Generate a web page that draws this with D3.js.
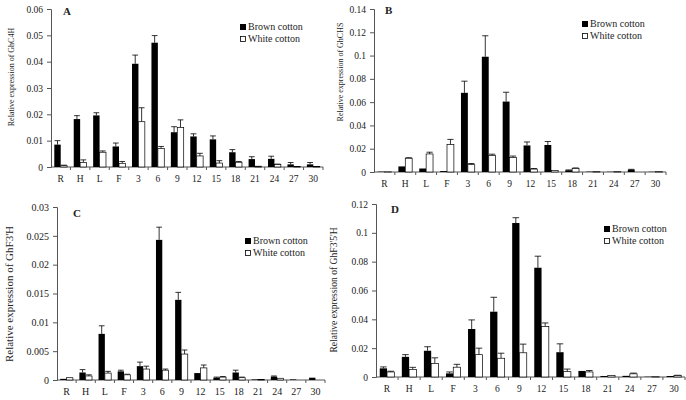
<!DOCTYPE html>
<html>
<head>
<meta charset="utf-8">
<script src="https://cdn.jsdelivr.net/npm/d3@7"></script>
<style>
  body { margin: 0; background: #fff; }
  svg { display: block; }
</style>
</head>
<body>
<script>
//categories shared by all four panels
var stages = ["R", "H", "L", "F", "3", "6", "9", "12", "15", "18", "21", "24", "27", "30"];

//panel A - GhC4H
var c4hBrown    = [0.0085, 0.0182, 0.0196, 0.0078, 0.0392, 0.0472, 0.0132, 0.0116, 0.0105, 0.0056, 0.0030, 0.0031, 0.0010, 0.0010];
var c4hBrownErr = [0.0015, 0.0013, 0.0010, 0.0013, 0.0033, 0.0027, 0.0021, 0.0010, 0.0013, 0.0010, 0.0009, 0.0010, 0.0007, 0.0007];
var c4hWhite    = [0.0005, 0.0017, 0.0056, 0.0014, 0.0172, 0.0070, 0.0150, 0.0042, 0.0015, 0.0018, 0.0003, 0.0009, 0.0002, 0.0002];
var c4hWhiteErr = [0.0002, 0.0010, 0.0005, 0.0007, 0.0053, 0.0008, 0.0029, 0.0010, 0.0009, 0.0003, 0.0000, 0.0002, 0.0000, 0.0000];

//panel B - GhCHS
var chsBrown    = [0.0003, 0.0048, 0.0030, 0.0008, 0.0680, 0.0990, 0.0605, 0.0228, 0.0232, 0.0015, 0.0003, 0.0002, 0.0020, 0.0002];
var chsBrownErr = [0.0000, 0.0000, 0.0000, 0.0000, 0.0100, 0.0180, 0.0080, 0.0030, 0.0030, 0.0003, 0.0000, 0.0000, 0.0003, 0.0000];
var chsWhite    = [0.0001, 0.0118, 0.0155, 0.0235, 0.0063, 0.0143, 0.0125, 0.0025, 0.0012, 0.0030, 0.0003, 0.0003, 0.0000, 0.0003];
var chsWhiteErr = [0.0000, 0.0005, 0.0015, 0.0045, 0.0010, 0.0010, 0.0012, 0.0005, 0.0000, 0.0005, 0.0000, 0.0000, 0.0000, 0.0000];

//panel C - GhF3'H
var f3hBrown    = [0.0002, 0.0013, 0.0080, 0.0015, 0.0024, 0.0243, 0.0139, 0.0012, 0.0004, 0.0013, 0.0001, 0.0006, 0.0001, 0.0004];
var f3hBrownErr = [0.0000, 0.0005, 0.0014, 0.0002, 0.0007, 0.0022, 0.0013, 0.0000, 0.0001, 0.0004, 0.0000, 0.0001, 0.0000, 0.0000];
var f3hWhite    = [0.0004, 0.0007, 0.0012, 0.0009, 0.0019, 0.0017, 0.0045, 0.0021, 0.0005, 0.0004, 0.0001, 0.0003, 0.0000, 0.0000];
var f3hWhiteErr = [0.0000, 0.0002, 0.0003, 0.0001, 0.0005, 0.0002, 0.0007, 0.0005, 0.0001, 0.0001, 0.0000, 0.0000, 0.0000, 0.0000];

//panel D - GhF3'5'H
var f35hBrown    = [0.0060, 0.0140, 0.0182, 0.0025, 0.0333, 0.0453, 0.1068, 0.0758, 0.0172, 0.0042, 0.0007, 0.0008, 0.0002, 0.0007];
var f35hBrownErr = [0.0010, 0.0015, 0.0028, 0.0010, 0.0063, 0.0100, 0.0037, 0.0080, 0.0058, 0.0000, 0.0000, 0.0000, 0.0000, 0.0000];
var f35hWhite    = [0.0035, 0.0052, 0.0093, 0.0068, 0.0155, 0.0130, 0.0168, 0.0350, 0.0037, 0.0035, 0.0010, 0.0022, 0.0002, 0.0010];
var f35hWhiteErr = [0.0005, 0.0015, 0.0040, 0.0020, 0.0045, 0.0035, 0.0060, 0.0025, 0.0018, 0.0010, 0.0000, 0.0005, 0.0000, 0.0002];

//y tick values for each panel
var ticksA = [0, 0.01, 0.02, 0.03, 0.04, 0.05, 0.06];
var ticksB = [0, 0.02, 0.04, 0.06, 0.08, 0.1, 0.12, 0.14];
var ticksC = [0, 0.005, 0.01, 0.015, 0.02, 0.025, 0.03];
var ticksD = [0, 0.02, 0.04, 0.06, 0.08, 0.1, 0.12];

var FONT = "'Liberation Serif', 'Times New Roman', serif";
var INK = "#222";

var svg = d3.select("body").append("svg")
    .attr("width", 686)
    .attr("height", 400);

//panel layouts
var panels = [
    {letter: "A", title: "Relative expression of GhC4H", left: 51, right: 323, top: 9, bottom: 167,
     ticks: ticksA, brown: c4hBrown, brownErr: c4hBrownErr, white: c4hWhite, whiteErr: c4hWhiteErr,
     titleX: 14, titleY: 77, titleSize: 8, tickSize: 9.5,
     letterX: 63, letterY: 15, legX: 240, legY: 24},
    {letter: "B", title: "Relative expression of GhCHS", left: 374, right: 666, top: 9, bottom: 172,
     ticks: ticksB, brown: chsBrown, brownErr: chsBrownErr, white: chsWhite, whiteErr: chsWhiteErr,
     titleX: 343, titleY: 72, titleSize: 8, tickSize: 9.5,
     letterX: 385, letterY: 14, legX: 582, legY: 21},
    {letter: "C", title: "Relative expression of GhF3'H", left: 57, right: 325, top: 207, bottom: 380,
     ticks: ticksC, brown: f3hBrown, brownErr: f3hBrownErr, white: f3hWhite, whiteErr: f3hWhiteErr,
     titleX: 13, titleY: 294, titleSize: 11, tickSize: 10,
     letterX: 73, letterY: 217, legX: 245, legY: 238},
    {letter: "D", title: "Relative expression of GhF3'5'H", left: 376, right: 685, top: 204, bottom: 377,
     ticks: ticksD, brown: f35hBrown, brownErr: f35hBrownErr, white: f35hWhite, whiteErr: f35hWhiteErr,
     titleX: 337, titleY: 290, titleSize: 9.6, tickSize: 9.5,
     letterX: 391, letterY: 213, legX: 604, legY: 226}
];

panels.forEach(drawPanel);

function drawPanel(p){
    var g = svg.append("g");

    var x = d3.scaleBand()
        .domain(stages)
        .range([p.left, p.right]);

    var y = d3.scaleLinear()
        .domain([0, p.ticks[p.ticks.length - 1]])
        .range([p.bottom, p.top]);

    var bw = x.bandwidth() * 0.33;

    //y axis
    var yAxis = d3.axisLeft(y)
        .tickValues(p.ticks)
        .tickSize(4)
        .tickPadding(4)
        .tickFormat(function(d){ return String(+d.toFixed(3)); });
    var ya = g.append("g")
        .attr("transform", "translate(" + p.left + ",0)")
        .call(yAxis);
    ya.select(".domain").attr("stroke", "#555");
    ya.selectAll(".tick line").attr("stroke", "#555");
    ya.selectAll("text")
        .style("font-size", p.tickSize + "px")
        .style("font-family", FONT)
        .attr("fill", INK);

    //x axis line with boundary ticks
    g.append("line")
        .attr("x1", p.left).attr("x2", p.right)
        .attr("y1", p.bottom).attr("y2", p.bottom)
        .attr("stroke", "#555");
    g.selectAll(".xtick")
        .data(stages)
        .enter().append("line")
        .attr("x1", function(d){ return x(d) + x.bandwidth(); })
        .attr("x2", function(d){ return x(d) + x.bandwidth(); })
        .attr("y1", p.bottom).attr("y2", p.bottom + 3)
        .attr("stroke", "#555");
    g.selectAll(".xlab")
        .data(stages)
        .enter().append("text")
        .attr("x", function(d){ return x(d) + x.bandwidth() / 2; })
        .attr("y", p.bottom + 15)
        .attr("text-anchor", "middle")
        .attr("fill", INK)
        .style("font-family", FONT)
        .style("font-size", p.tickSize + "px")
        .text(function(d){ return d; });

    //bars
    var rows = stages.map(function(s, i){
        return {s: s, b: p.brown[i], be: p.brownErr[i], w: p.white[i], we: p.whiteErr[i]};
    });
    var cx = function(d){ return x(d.s) + x.bandwidth() / 2; };

    //error bars (drawn under bars)
    rows.forEach(function(d){
        [[d.b, d.be, cx(d) - bw / 2], [d.w, d.we, cx(d) + bw / 2]].forEach(function(e){
            if (e[1] <= 0) return;
            g.append("line")
                .attr("x1", e[2]).attr("x2", e[2])
                .attr("y1", y(e[0])).attr("y2", y(e[0] + e[1]))
                .attr("stroke", "#000").attr("stroke-width", 0.8);
            g.append("line")
                .attr("x1", e[2] - bw * 0.45).attr("x2", e[2] + bw * 0.45)
                .attr("y1", y(e[0] + e[1])).attr("y2", y(e[0] + e[1]))
                .attr("stroke", "#000").attr("stroke-width", 0.8);
        });
    });

    g.selectAll(".brown")
        .data(rows)
        .enter().append("rect")
        .attr("x", function(d){ return cx(d) - bw; })
        .attr("y", function(d){ return y(d.b); })
        .attr("width", bw)
        .attr("height", function(d){ return p.bottom - y(d.b); })
        .attr("fill", "#000");

    g.selectAll(".white")
        .data(rows)
        .enter().append("rect")
        .attr("x", function(d){ return cx(d); })
        .attr("y", function(d){ return y(d.w); })
        .attr("width", bw)
        .attr("height", function(d){ return p.bottom - y(d.w); })
        .attr("fill", "#fff")
        .attr("stroke", "#000")
        .attr("stroke-width", 0.7);

    //panel letter
    g.append("text")
        .attr("x", p.letterX).attr("y", p.letterY)
        .attr("fill", INK)
        .style("font-family", FONT)
        .style("font-size", "11px").style("font-weight", "bold")
        .text(p.letter);

    //y title
    g.append("text")
        .attr("transform", "translate(" + p.titleX + "," + p.titleY + ") rotate(-90)")
        .attr("text-anchor", "middle")
        .attr("fill", INK)
        .style("font-family", FONT)
        .style("font-size", p.titleSize + "px")
        .text(p.title);

    //legend
    var leg = g.append("g").attr("transform", "translate(" + p.legX + "," + p.legY + ")");
    leg.append("rect").attr("x", 0).attr("y", 0).attr("width", 6).attr("height", 6).attr("fill", "#000");
    leg.append("rect").attr("x", 0.5).attr("y", 12.5).attr("width", 5).attr("height", 5)
        .attr("fill", "#fff").attr("stroke", "#000").attr("stroke-width", 0.8);
    leg.selectAll(".lt")
        .data(["Brown cotton", "White cotton"])
        .enter().append("text")
        .attr("x", 8)
        .attr("y", function(d, i){ return 6 + i * 12; })
        .attr("fill", INK)
        .style("font-family", FONT)
        .style("font-size", "10px")
        .text(function(d){ return d; });
}
</script>
</body>
</html>
